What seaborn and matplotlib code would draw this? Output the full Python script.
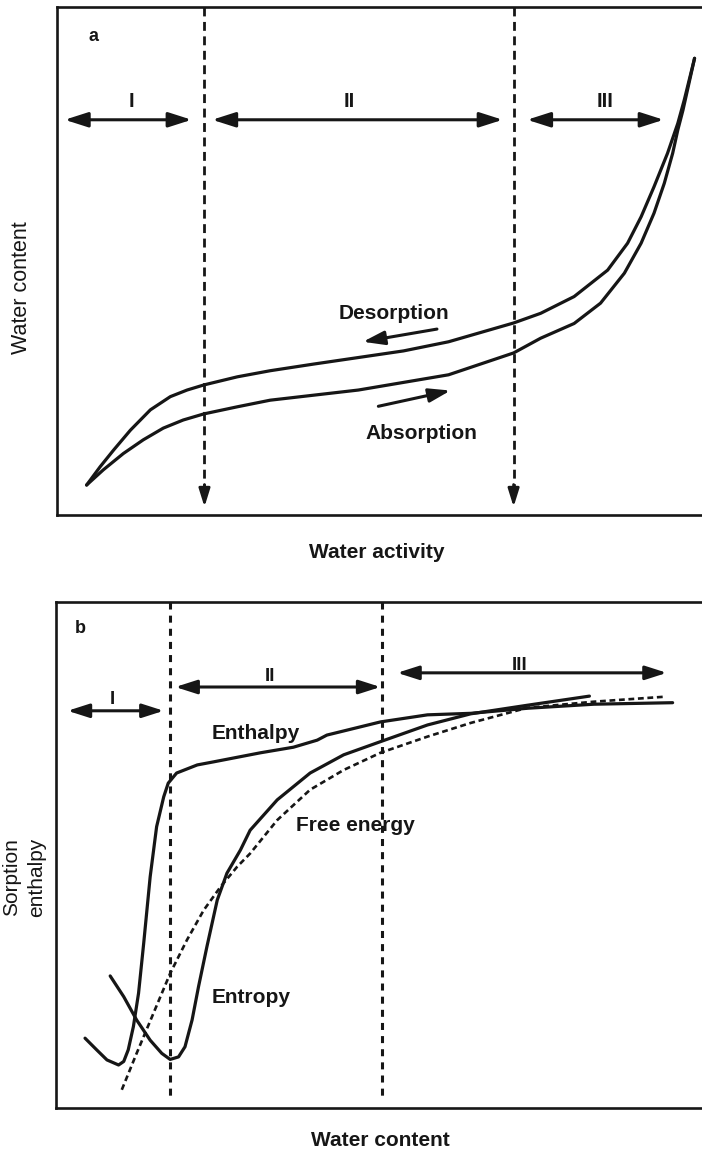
import numpy as np
import pandas as pd
import seaborn as sns
import matplotlib.pyplot as plt

# ---------------- Panel a : sorption isotherm (schematic units 0-100) ----------------
aw_desorption = [4.6, 6.7, 8.8, 11.4, 14.5, 17.6, 20.2, 22.8, 28.0, 33.1, 39.8, 53.8, 60.8, 70.9,
                 75.1, 80.3, 85.5, 88.6, 90.7, 92.7, 94.8, 96.4, 97.4, 99.0]
wc_desorption = [5.9, 9.5, 12.8, 16.7, 20.7, 23.3, 24.6, 25.6, 27.2, 28.4, 29.7, 32.3, 34.1, 37.8,
                 39.7, 43.0, 48.2, 53.5, 58.7, 64.6, 71.2, 77.1, 81.7, 89.9]
aw_absorption = [4.6, 7.2, 10.3, 13.4, 16.5, 19.6, 22.8, 28.0, 33.1, 46.8, 60.8, 70.9,
                 75.1, 80.3, 84.4, 88.1, 90.7, 92.7, 94.3, 95.6, 96.4, 97.2, 99.0]
wc_absorption = [5.9, 8.9, 12.1, 14.8, 17.1, 18.7, 19.9, 21.3, 22.6, 24.6, 27.6, 31.9,
                 34.8, 37.7, 41.7, 47.6, 53.5, 59.4, 65.3, 71.2, 75.8, 79.7, 89.9]

a_boundaries = [22.9, 70.9]
a_zone_labels = ["I", "II", "III"]
a_zone_start = [1.2, 24.1, 73.0]
a_zone_end = [20.9, 69.2, 94.2]
a_zone_label_x = [11.6, 45.4, 85.1]

# ---------------- Panel b : sorption thermodynamics ----------------
wc_enthalpy = [4.5, 6.3, 7.9, 9.7, 10.5, 11.2, 12.0, 12.8, 13.6, 14.6, 15.6, 16.7, 17.4, 18.7,
               21.9, 24.4, 31.7, 36.8, 40.5, 42.0, 50.3, 57.6, 64.3, 73.1, 83.4, 95.6]
enthalpy = [13.8, 11.5, 9.5, 8.5, 9.2, 11.5, 16.1, 22.7, 32.6, 45.7, 55.6, 61.5, 64.2, 66.2,
            67.8, 68.4, 70.2, 71.3, 72.7, 73.7, 76.3, 77.7, 78.0, 79.0, 79.8, 80.1]
wc_entropy = [8.4, 10.5, 12.5, 14.6, 16.4, 17.7, 19.0, 20.0, 21.1, 22.1, 23.4, 25.0, 26.5, 28.6,
              30.1, 34.3, 39.4, 44.6, 50.3, 57.6, 64.3, 73.1, 82.7]
entropy = [26.1, 22.0, 17.4, 13.4, 10.8, 9.6, 10.1, 12.1, 17.4, 24.0, 31.9, 41.1, 46.4, 51.0,
           54.9, 60.9, 66.2, 69.8, 72.4, 75.7, 77.9, 79.6, 81.4]
wc_free_energy = [10.2, 12.5, 15.1, 17.7, 20.3, 22.9, 25.5, 28.1, 30.1, 34.3, 39.4, 44.6, 50.3,
                  57.6, 64.3, 73.1, 83.4, 94.6]
free_energy = [3.6, 10.8, 18.7, 26.6, 33.2, 39.1, 43.7, 47.7, 50.3, 56.9, 62.9, 66.8, 70.2,
               73.4, 76.1, 79.1, 80.3, 81.3]

b_boundaries = [17.6, 50.5]
b_zone_labels = ["I", "II", "III"]
b_zone_start = [1.8, 18.5, 52.9]
b_zone_end = [16.7, 50.3, 94.7]
b_zone_y = [78.5, 83.2, 86.0]
b_zone_label_x = [8.7, 33.2, 71.9]
b_zone_label_y = [80.8, 85.2, 87.5]

# ---------------- figure ----------------
sns.set_theme(style="white")
plt.rcParams["font.family"] = ["Liberation Sans", "DejaVu Sans"]
INK = "#161616"

fig = plt.figure(figsize=(7.02, 11.52), dpi=100)
W, H = 702, 1152
ax_a = fig.add_axes([57 / W, 1 - 515 / H, (701 - 57) / W, (515 - 7) / H])
ax_b = fig.add_axes([56 / W, 1 - 1108 / H, (701 - 56) / W, (1108 - 602) / H])

for ax in (ax_a, ax_b):
    ax.set_xlim(0, 100)
    ax.set_ylim(0, 100)
    ax.set_xticks([])
    ax.set_yticks([])
    ax.set_xlabel("")
    ax.set_ylabel("")
    for side in ("left", "top", "bottom"):
        ax.spines[side].set_color(INK)
        ax.spines[side].set_linewidth(1.9)
    ax.spines["right"].set_visible(False)

# ---- panel a curves
df_a = pd.concat([
    pd.DataFrame({"aw": aw_desorption, "wc": wc_desorption, "curve": "Desorption"}),
    pd.DataFrame({"aw": aw_absorption, "wc": wc_absorption, "curve": "Absorption"}),
])
sns.lineplot(data=df_a, x="aw", y="wc", units="curve", estimator=None, sort=False,
             color=INK, linewidth=2.3, ax=ax_a, legend=False)
for ln in ax_a.lines:
    ln.set_solid_joinstyle("round")
    ln.set_solid_capstyle("round")

# dashed boundaries with arrowheads
for xb in a_boundaries:
    ax_a.plot([xb, xb], [100, 4.5], color=INK, lw=2.0, linestyle=(0, (3.2, 2.0)))
    ax_a.annotate("", xy=(xb, 1.6), xytext=(xb, 6.0),
                  arrowprops=dict(arrowstyle="-|>,head_length=0.9,head_width=0.28",
                                  color=INK, lw=2.0, shrinkA=0, shrinkB=0))

zone_style = "<|-|>,head_length=1.0,head_width=0.32"
for s, e, lx, lab in zip(a_zone_start, a_zone_end, a_zone_label_x, a_zone_labels):
    ax_a.annotate("", xy=(e, 77.8), xytext=(s, 77.8),
                  arrowprops=dict(arrowstyle=zone_style, color=INK, lw=2.2,
                                  shrinkA=0, shrinkB=0, mutation_scale=14))
    ax_a.text(lx, 81.4, lab, ha="center", va="center", fontsize=14.5, fontweight="bold", color=INK)

ax_a.text(5.65, 94.2, "a", ha="center", va="center", fontsize=13, fontweight="bold", color=INK)
ax_a.text(52.3, 39.7, "Desorption", ha="center", va="center", fontsize=15, fontweight="bold", color=INK)
ax_a.text(56.6, 16.1, "Absorption", ha="center", va="center", fontsize=15, fontweight="bold", color=INK)
small_style = "-|>,head_length=1.0,head_width=0.32"
ax_a.annotate("", xy=(47.5, 34.1), xytext=(59.0, 36.6),
              arrowprops=dict(arrowstyle=small_style, color=INK, lw=2.2, shrinkA=0, shrinkB=0,
                              mutation_scale=13))
ax_a.annotate("", xy=(61.1, 24.5), xytext=(49.9, 21.4),
              arrowprops=dict(arrowstyle=small_style, color=INK, lw=2.2, shrinkA=0, shrinkB=0,
                              mutation_scale=13))

# ---- panel b curves
df_b = pd.concat([
    pd.DataFrame({"wc": wc_enthalpy, "val": enthalpy, "curve": "Enthalpy"}),
    pd.DataFrame({"wc": wc_entropy, "val": entropy, "curve": "Entropy"}),
    pd.DataFrame({"wc": wc_free_energy, "val": free_energy, "curve": "Free energy"}),
])
sns.lineplot(data=df_b, x="wc", y="val", hue="curve", style="curve", estimator=None, sort=False,
             palette={"Enthalpy": INK, "Entropy": INK, "Free energy": INK},
             dashes={"Enthalpy": "", "Entropy": "", "Free energy": (2.2, 1.4)},
             linewidth=2.3, ax=ax_b, legend=False)
for ln in ax_b.lines:
    ln.set_solid_joinstyle("round")
ax_b.lines[2].set_linewidth(1.9)

for xb in b_boundaries:
    ax_b.plot([xb, xb], [100, 2.0], color=INK, lw=2.2, linestyle=(0, (2.3, 2.0)))

for s, e, zy, lx, ly, lab in zip(b_zone_start, b_zone_end, b_zone_y, b_zone_label_x, b_zone_label_y, b_zone_labels):
    ax_b.annotate("", xy=(e, zy), xytext=(s, zy),
                  arrowprops=dict(arrowstyle=zone_style, color=INK, lw=2.2,
                                  shrinkA=0, shrinkB=0, mutation_scale=13))
    ax_b.text(lx, ly, lab, ha="center", va="center", fontsize=13.5, fontweight="bold", color=INK)

ax_b.text(3.7, 94.8, "b", ha="center", va="center", fontsize=13, fontweight="bold", color=INK)
ax_b.text(24.2, 74.1, "Enthalpy", ha="left", va="center", fontsize=15, fontweight="bold", color=INK)
ax_b.text(37.2, 55.9, "Free energy", ha="left", va="center", fontsize=15, fontweight="bold", color=INK)
ax_b.text(24.2, 21.9, "Entropy", ha="left", va="center", fontsize=15, fontweight="bold", color=INK)

# ---- axis titles
fig.text(22 / W, 1 - 288 / H, "Water content", rotation=90, ha="center", va="center",
         fontsize=15.5, color=INK)
fig.text(377 / W, 1 - 553 / H, "Water activity", ha="center", va="center",
         fontsize=15, fontweight="bold", color=INK)
fig.text(24 / W, 1 - 877 / H, "Sorption\nenthalpy", rotation=90, ha="center", va="center",
         fontsize=15, color=INK, linespacing=1.45, multialignment="center")
fig.text(380 / W, 1 - 1141 / H, "Water content", ha="center", va="center",
         fontsize=15, fontweight="bold", color=INK)

fig.savefig("out.png", dpi=100, facecolor="white")
